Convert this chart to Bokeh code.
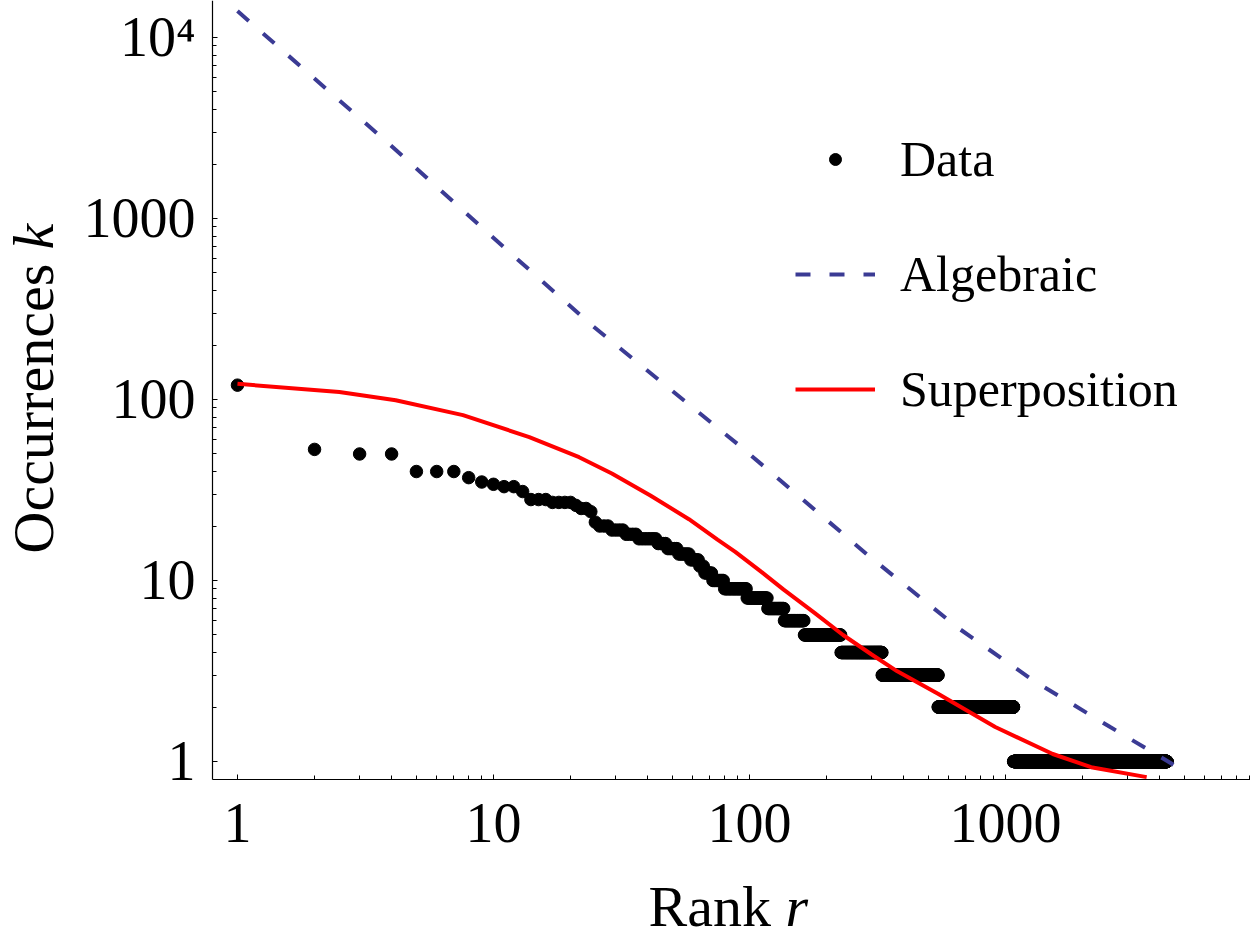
import math
from bokeh.plotting import figure
from bokeh.models import Range1d, FixedTicker, Legend, LegendItem, Label
from bokeh.embed import file_html
from bokeh.resources import INLINE

# ---------------- data ----------------
# occurrences of the first ranks (rank 1, 2, 3, ...)
head_values = [120, 53, 50, 50, 40, 40, 40, 37, 35, 34, 33, 33, 31, 28, 28, 28,
               27, 27, 27, 27, 26, 25, 25, 24, 21, 20, 20, 20, 19, 19, 19, 19]
# afterwards the data form plateaus: level k up to (and including) rank last
step_levels = [18, 17, 16, 15, 14, 13, 12, 11, 10, 9, 8, 7, 6, 5, 4, 3, 2, 1]
step_last_rank = [36, 43, 47, 52, 58, 63, 66, 71, 79, 97, 117, 136, 163, 227,
                  329, 545, 1075, 4270]

algebraic_rank = [1, 3.9, 9.6, 24.3, 93, 292, 647, 1285, 2565, 4530]
algebraic_k = [14000, 2590, 822, 256, 54.5, 13.7, 5.52, 2.80, 1.55, 0.96]

super_rank = [1, 2.5, 4.15, 7.6, 13.8, 21.6, 29, 41, 58, 75, 88, 110, 136, 180,
              232, 300, 378, 545, 912, 1530, 2160, 3560]
super_k = [122, 110, 99, 82, 62, 48, 39, 29.5, 21.8, 16.8, 14.4, 11.3, 8.9,
           6.6, 5.0, 3.9, 3.15, 2.37, 1.55, 1.10, 0.93, 0.82]

x_tick_values = [1, 10, 100, 1000]
x_tick_labels = ["1", "10", "100", "1000"]
y_tick_values = [1, 10, 100, 1000, 10000]
y_tick_labels = ["1", "10", "100", "1000", "10\u2074"]

legend_labels = ["Data", "Algebraic", "Superposition"]

# expand the plateaus into one point per rank
ranks = list(range(1, len(head_values) + 1))
ks = list(head_values)
r = len(head_values)
for lvl, last in zip(step_levels, step_last_rank):
    while r < last:
        r += 1
        ranks.append(r)
        ks.append(lvl)

FONT = "Liberation Serif"
W, H = 1250, 940
# visible axis extent (where the axes of the reference start and end)
AX_X0, AX_X1 = 0.7985, 9058
AX_Y0, AX_Y1 = 0.7954, 16011
# the plotting frame covers the whole canvas; the axes sit at fixed locations
p = figure(width=W, height=H, x_axis_type="log", y_axis_type="log",
           x_range=Range1d(0.11867, AX_X1), y_range=Range1d(0.10257, AX_Y1),
           output_backend="svg", toolbar_location=None,
           min_border_left=0, min_border_right=0, min_border_top=0,
           min_border_bottom=0)
p.outline_line_color = None
p.xgrid.visible = False
p.ygrid.visible = False
p.background_fill_color = "white"
p.border_fill_color = "white"

dots = p.scatter(ranks, ks, size=12.5, marker="circle", color="black")
sup = p.line(super_rank, super_k, line_color="#ff0000", line_width=4)
alg = p.line(algebraic_rank, algebraic_k, line_color="#3b3b94", line_width=4,
             line_dash="15 19")

x_minor = [m * 10 ** e for e in range(0, 4) for m in range(2, 10) if m * 10 ** e < AX_X1]
y_minor = [m * 10 ** e for e in range(0, 5) for m in range(2, 10) if m * 10 ** e < AX_Y1]
p.xaxis.ticker = FixedTicker(ticks=x_tick_values, minor_ticks=x_minor)
p.yaxis.ticker = FixedTicker(ticks=y_tick_values, minor_ticks=y_minor)
p.xaxis.major_label_overrides = dict(zip(x_tick_values, x_tick_labels))
p.yaxis.major_label_overrides = dict(zip(y_tick_values, y_tick_labels))
p.xaxis.fixed_location = AX_Y0
p.yaxis.fixed_location = AX_X0
p.xaxis.bounds = (AX_X0, AX_X1)
p.yaxis.bounds = (AX_Y0, AX_Y1)

for ax in (p.xaxis[0], p.yaxis[0]):
    ax.axis_line_color = "black"
    ax.axis_line_width = 1.2
    ax.major_tick_line_color = "black"
    ax.minor_tick_line_color = "black"
    ax.major_tick_in = 5
    ax.major_tick_out = 0
    ax.minor_tick_in = 4
    ax.minor_tick_out = 0
    ax.major_label_text_font = FONT
    ax.major_label_text_font_size = "56px"
    ax.major_label_text_color = "black"
p.xaxis.major_label_standoff = 25
p.yaxis.major_label_standoff = 17

legend = Legend(items=[LegendItem(label=legend_labels[0], renderers=[dots]),
                       LegendItem(label=legend_labels[1], renderers=[alg]),
                       LegendItem(label=legend_labels[2], renderers=[sup])],
                location=(795, 521), glyph_width=80, glyph_height=30,
                label_height=60, spacing=55, label_standoff=25, padding=0,
                margin=0, border_line_color=None, background_fill_alpha=0,
                label_text_font=FONT, label_text_font_size="50px",
                label_text_color="black")
p.add_layout(legend)

# axis titles (with italic variable names), positioned in canvas pixels
common = dict(x_units="screen", y_units="screen", text_font=FONT,
              text_font_size="58px", text_color="black",
              text_align="left", text_baseline="alphabetic")
p.add_layout(Label(x=648, y=34, text="Rank", **common))
p.add_layout(Label(x=785, y=34, text="r", text_font_style="italic", **common))
p.add_layout(Label(x=33, y=387, text="Occurrences", angle=math.pi / 2, **common))
p.add_layout(Label(x=33, y=691, text="k", angle=math.pi / 2,
                   text_font_style="italic", **common))

open("out.html", "w").write(file_html(p, INLINE))
